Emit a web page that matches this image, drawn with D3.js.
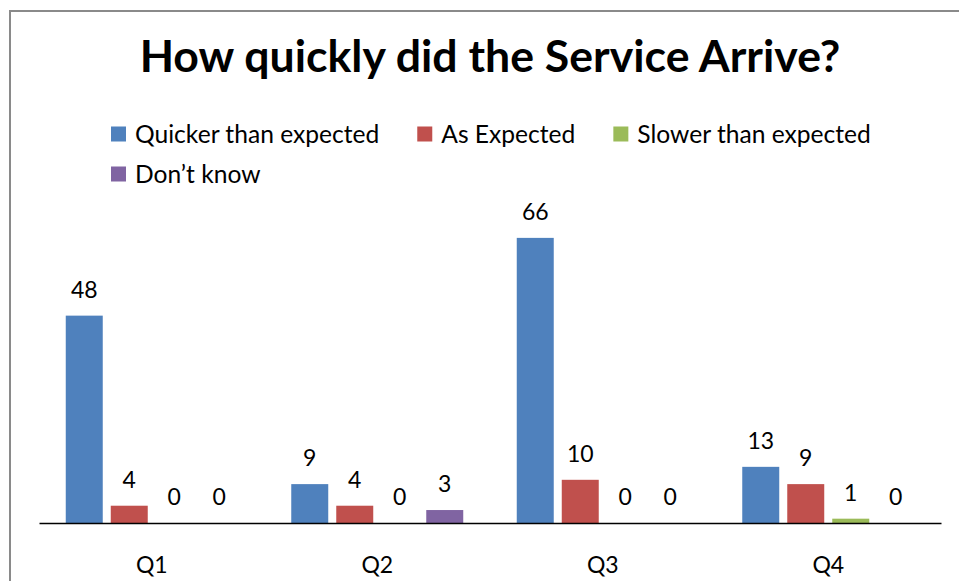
<!DOCTYPE html>
<html>
<head>
<meta charset="utf-8">
<script src="https://cdn.jsdelivr.net/npm/d3@7"></script>
<style>
  html, body { margin: 0; padding: 0; background: #fff; }
  svg { display: block; font-family: Lato, "Open Sans", sans-serif; }
</style>
</head>
<body>
<svg class="root"></svg>
<script>
var quarters = ["Q1", "Q2", "Q3", "Q4"];
var seriesNames = ["Quicker than expected", "As Expected", "Slower than expected", "Don\u2019t know"];
var quicker = [48, 9, 66, 13];
var asExpected = [4, 4, 10, 9];
var slower = [0, 0, 0, 1];
var dontKnow = [0, 3, 0, 0];
var colors = ["#4F81BD", "#C0504D", "#9BBB59", "#8064A2"];

var values = [quicker, asExpected, slower, dontKnow];

var width = 959, height = 581,
    baseY = 523,
    left = 39, right = 941;

var svg = d3.select(".root")
    .attr("width", width)
    .attr("height", height);

// chart frame, cut by the page on the right and bottom
svg.append("rect")
    .attr("x", 10).attr("y", 11)
    .attr("width", 1000).attr("height", 1000)
    .attr("fill", "#fff")
    .attr("stroke", "#8a8a8a")
    .attr("stroke-width", 2);

svg.append("text")
    .attr("x", 490).attr("y", 72)
    .attr("text-anchor", "middle")
    .style("font-weight", "bold")
    .style("font-size", "44.6px")
    .text("How quickly did the Service Arrive?");

// legend, flowing left to right and wrapping
var lx = 111, ly = 134;
seriesNames.forEach(function(name, i) {
  var g = svg.append("g").attr("class", "legend");
  var t = g.append("text")
      .attr("y", 0)
      .attr("dy", "0.35em")
      .style("font-size", "24.6px")
      .text(name);
  var w = t.node().getComputedTextLength();
  if (lx + 24 + w > 900) { lx = 111; ly += 40; }
  g.attr("transform", "translate(" + lx + "," + ly + ")");
  g.insert("rect", "text")
      .attr("x", 0).attr("y", -7.5)
      .attr("width", 15).attr("height", 15)
      .attr("fill", colors[i]);
  t.attr("x", 24);
  lx += 24 + w + 38;
});

var x0 = d3.scaleBand()
    .domain(quarters)
    .range([left, right]);

var x1 = d3.scaleBand()
    .domain(d3.range(seriesNames.length))
    .range([0, 180])
    .paddingInner(0.178)
    .paddingOuter(0.089);

var y = d3.scaleLinear()
    .domain([0, 70])
    .range([baseY, baseY - 70 * 4.32]);

var groupOff = (x0.bandwidth() - 180) / 2;

var groups = svg.selectAll(".grp")
    .data(quarters)
  .enter().append("g")
    .attr("class", "grp")
    .attr("transform", function(d) { return "translate(" + (x0(d) + groupOff) + ",0)"; });

groups.selectAll("rect")
    .data(function(d, qi) { return values.map(function(s, si) { return {s: si, v: s[qi]}; }); })
  .enter().append("rect")
    .attr("x", function(d) { return x1(d.s); })
    .attr("y", function(d) { return y(d.v); })
    .attr("width", x1.bandwidth())
    .attr("height", function(d) { return baseY - y(d.v); })
    .attr("fill", function(d) { return colors[d.s]; });

groups.selectAll(".val")
    .data(function(d, qi) { return values.map(function(s, si) { return {s: si, v: s[qi]}; }); })
  .enter().append("text")
    .attr("class", "val")
    .attr("x", function(d) { return x1(d.s) + x1.bandwidth() / 2; })
    .attr("y", function(d) { return y(d.v) - 18; })
    .attr("text-anchor", "middle")
    .style("font-size", "23px")
    .text(function(d) { return d.v; });

// category axis
var xAxis = d3.axisBottom(x0).tickSize(0).tickPadding(34);
var ax = svg.append("g")
    .attr("transform", "translate(0," + baseY + ")")
    .call(xAxis);
ax.select(".domain").attr("stroke", "#000").attr("stroke-width", 1.5);
ax.selectAll("text")
    .style("font-family", "Lato, 'Open Sans', sans-serif")
    .style("font-size", "23px")
    .attr("fill", "#000");
</script>
</body>
</html>
